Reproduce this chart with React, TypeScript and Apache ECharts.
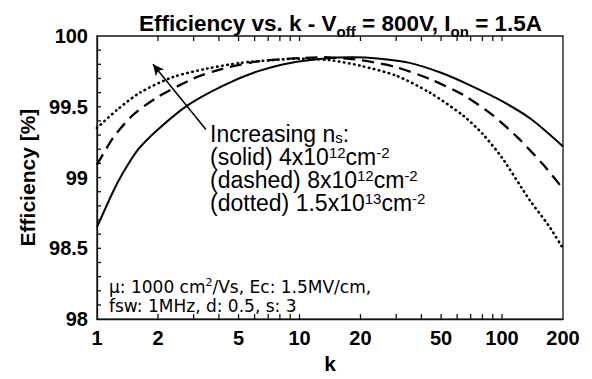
import React, { useEffect, useRef } from 'react';
import * as echarts from 'echarts';

const FONT = '"Liberation Sans", Arial, Helvetica, sans-serif';
const WIDE_FONT = '"DejaVu Sans", "Liberation Sans", Arial, sans-serif';

// Efficiency (%) versus k
const kSolid = [1, 1.2, 1.34, 1.6, 2, 2.8, 4.2, 6.2, 9, 13, 18, 25, 35, 50, 70, 100, 140, 200];
const effSolid = [98.65, 98.9, 99.03, 99.2, 99.34, 99.51, 99.65, 99.75, 99.81, 99.84, 99.85, 99.84, 99.81, 99.74, 99.65, 99.54, 99.41, 99.22];

const kDashed = [1, 1.2, 1.5, 2, 3, 4.2, 6.2, 9, 13, 20, 30, 45, 65, 90, 120, 160, 200];
const effDashed = [99.09, 99.28, 99.44, 99.57, 99.7, 99.77, 99.82, 99.84, 99.85, 99.83, 99.78, 99.69, 99.58, 99.44, 99.28, 99.09, 98.92];

const kDotted = [1, 1.26, 1.63, 2.37, 3.5, 5.1, 7.4, 10, 14, 20, 30, 44, 64, 80, 100, 137, 170, 200];
const effDotted = [99.35, 99.48, 99.6, 99.71, 99.77, 99.81, 99.83, 99.84, 99.83, 99.79, 99.72, 99.6, 99.44, 99.31, 99.14, 98.84, 98.66, 98.5];

const xTickValues = [2, 3, 4, 5, 6, 7, 8, 9, 10, 20, 30, 40, 50, 60, 70, 80, 90, 100];
const xLabelValues = [1, 2, 5, 10, 20, 50, 100, 200];
const yMinorTickValues = [98.1, 98.2, 98.3, 98.4, 98.5, 98.6, 98.7, 98.8, 98.9, 99, 99.1, 99.2, 99.3, 99.4, 99.5, 99.6, 99.7, 99.8, 99.9];

const arrowTail = [3.45, 99.34];
const arrowHead = [1.89, 99.8];

const titleText = 'Efficiency vs. k - V{sub|off} = 800V, I{sub|on} = 1.5A';
const noteText = 'Increasing n{sub|s}:\n(solid) 4x10{sup|12}cm{sup|-2}\n(dashed) 8x10{sup|12}cm{sup|-2}\n(dotted) 1.5x10{sup|13}cm{sup|-2}';
const paramText = 'μ: 1000 cm{sup|2}/Vs, Ec: 1.5MV/cm,\nfsw: 1MHz, d: 0.5, s: 3';

const zip = (ks: number[], vs: number[]) => ks.map((k, i) => [k, vs[i]]);

const TICK_STYLE = { stroke: '#111', lineWidth: 1.3, fill: null };

export default function App() {
  const ref = useRef<HTMLDivElement>(null);
  useEffect(() => {
    if (!ref.current) return;
    const chart = echarts.init(ref.current, undefined, { renderer: 'svg' });
    chart.setOption({
      animation: false,
      backgroundColor: '#fff',
      title: {
        text: titleText,
        left: 134,
        top: 3,
        textStyle: {
          fontFamily: FONT,
          fontSize: 22.5,
          fontWeight: 'bold',
          color: '#000',
          lineHeight: 31,
          rich: {
            sub: { fontFamily: FONT, fontSize: 15, fontWeight: 'bold', color: '#000', verticalAlign: 'bottom' },
          },
        },
      },
      grid: {
        left: 97,
        right: 29,
        top: 36,
        bottom: 55,
        show: true,
        borderColor: '#111',
        borderWidth: 1.3,
      },
      xAxis: {
        type: 'log',
        logBase: 10,
        min: 1,
        max: 200,
        position: 'bottom',
        axisLine: { show: true, lineStyle: { color: '#111', width: 1.3 } },
        axisTick: { show: false },
        minorTick: { show: false },
        splitLine: { show: false },
        axisLabel: {
          customValues: xLabelValues,
          formatter: (v: number) => String(Math.round(v)),
          fontFamily: FONT,
          fontSize: 20,
          fontWeight: 'bold',
          color: '#000',
          margin: 9,
        },
        name: 'k',
        nameLocation: 'middle',
        nameGap: 31,
        nameTextStyle: { fontFamily: FONT, fontSize: 21, fontWeight: 'bold', color: '#000' },
      },
      yAxis: {
        type: 'value',
        min: 98,
        max: 100,
        interval: 0.5,
        axisLine: { show: true, lineStyle: { color: '#111', width: 1.3 } },
        axisTick: { show: false },
        minorTick: { show: false },
        splitLine: { show: false },
        axisLabel: {
          formatter: (v: number) => String(v),
          fontFamily: FONT,
          fontSize: 20,
          fontWeight: 'bold',
          color: '#000',
          margin: 9,
        },
        name: 'Efficiency [%]',
        nameLocation: 'middle',
        nameGap: 58,
        nameRotate: 90,
        nameTextStyle: { fontFamily: FONT, fontSize: 21, fontWeight: 'bold', color: '#000' },
      },
      series: [
        {
          type: 'custom',
          name: 'xticks',
          silent: true,
          clip: false,
          data: xTickValues.map((k) => [k, 98]),
          renderItem: (_p: any, api: any) => {
            const k = api.value(0);
            const b = api.coord([k, 98]);
            const t = api.coord([k, 100]);
            return {
              type: 'group',
              children: [
                { type: 'line', shape: { x1: b[0], y1: b[1], x2: b[0], y2: b[1] - 5 }, style: TICK_STYLE },
                { type: 'line', shape: { x1: t[0], y1: t[1], x2: t[0], y2: t[1] + 5 }, style: TICK_STYLE },
              ],
            };
          },
        },
        {
          type: 'custom',
          name: 'yticks',
          silent: true,
          clip: false,
          data: yMinorTickValues.map((v) => [1, v]),
          renderItem: (_p: any, api: any) => {
            const p = api.coord([1, api.value(1)]);
            return { type: 'line', shape: { x1: p[0], y1: p[1], x2: p[0] + 4, y2: p[1] }, style: TICK_STYLE };
          },
        },
        {
          type: 'line',
          name: 'solid',
          data: zip(kSolid, effSolid),
          smooth: 0.25,
          symbol: 'none',
          lineStyle: { color: '#000', width: 2, type: 'solid' },
          markLine: {
            silent: true,
            symbol: ['none', 'arrow'],
            symbolSize: [8, 11],
            label: { show: false },
            lineStyle: { color: '#000', width: 1.5, type: 'solid' },
            data: [[{ coord: arrowTail }, { coord: arrowHead }]],
          },
        },
        {
          type: 'line',
          name: 'dashed',
          data: zip(kDashed, effDashed),
          smooth: 0.25,
          symbol: 'none',
          lineStyle: { color: '#000', width: 2.3, type: [12, 7] },
        },
        {
          type: 'line',
          name: 'dotted',
          data: zip(kDotted, effDotted),
          smooth: 0.25,
          symbol: 'none',
          lineStyle: { color: '#000', width: 2.6, type: [0.5, 4.6], cap: 'round' },
        },
      ],
      graphic: [
        {
          type: 'text',
          left: 210,
          top: 122,
          style: {
            text: noteText,
            fontFamily: FONT,
            fontSize: 23,
            lineHeight: 23,
            fill: '#000',
            rich: {
              sup: { fontFamily: FONT, fontSize: 15, fill: '#000', verticalAlign: 'top' },
              sub: { fontFamily: FONT, fontSize: 15, fill: '#000', verticalAlign: 'bottom' },
            },
          },
        },
        {
          type: 'text',
          left: 109,
          top: 277,
          style: {
            text: paramText,
            fontFamily: WIDE_FONT,
            fontSize: 17,
            lineHeight: 19,
            fill: '#000',
            rich: {
              sup: { fontFamily: WIDE_FONT, fontSize: 11, fill: '#000', verticalAlign: 'top' },
            },
          },
        },
      ],
    });
    return () => chart.dispose();
  }, []);
  return <div ref={ref} style={{ position: 'absolute', left: 0, top: 0, width: 592, height: 379 }} />;
}
